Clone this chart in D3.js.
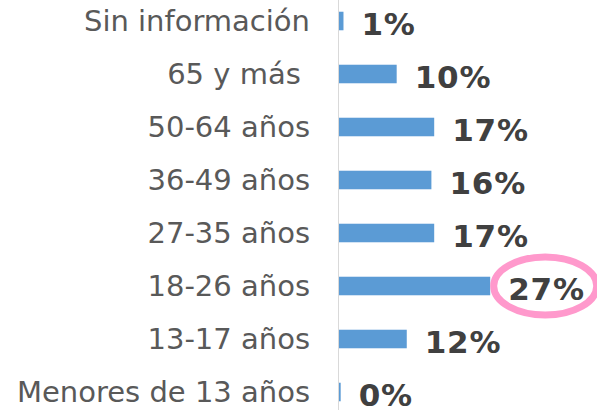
<!DOCTYPE html>
<html>
<head>
<meta charset="utf-8">
<script src="https://cdn.jsdelivr.net/npm/d3@7"></script>
<style>
  html, body { margin: 0; padding: 0; background: #fff; }
  svg { display: block; }
</style>
</head>
<body>
<svg id="chart"></svg>
<script>
// datos
const categorias = ['Sin información', '65 y más ', '50-64 años', '36-49 años', '27-35 años', '18-26 años', '13-17 años', 'Menores de 13 años'];
const valores = [0.8, 10.3, 17, 16.5, 17, 27, 12.1, 0.3];
const etiquetas = ['1%', '10%', '17%', '16%', '17%', '27%', '12%', '0%'];
const destacado = '18-26 años';

function barras() {
    const width = 597;
    const height = 410;
    const svg = d3.select('#chart')
        .attr('width', width)
        .attr('height', height);

    const x0 = 339;
    const x = d3.scaleLinear().domain([0, 10]).range([x0, x0 + 56]);
    const y = d3.scaleBand()
        .domain(categorias)
        .range([-5.5, 418.5])
        .paddingInner(0.65)
        .paddingOuter(0.325);

    // etiquetas de categoria
    svg.append('g')
        .selectAll('text')
        .data(categorias)
        .enter()
        .append('text')
        .attr('x', 310)
        .attr('y', function (d) { return y(d) + y.bandwidth() / 2; })
        .attr('dy', '0.36em')
        .attr('text-anchor', 'end')
        .attr('fill', '#595959')
        .style('font-family', 'DejaVu Sans, Verdana, sans-serif')
        .style('font-size', '29px')
        .style('white-space', 'pre')
        .text(function (d) { return d; });

    // barras
    svg.append('g')
        .selectAll('rect')
        .data(valores)
        .enter()
        .append('rect')
        .attr('x', x0)
        .attr('y', function (d, i) { return y(categorias[i]); })
        .attr('width', function (d) { return x(d) - x0; })
        .attr('height', y.bandwidth())
        .attr('fill', '#5b9bd5');

    // linea del eje
    svg.append('line')
        .attr('x1', 338.5).attr('x2', 338.5)
        .attr('y1', 0).attr('y2', height)
        .attr('stroke', '#d9d9d9')
        .attr('stroke-width', 1);

    // valores
    svg.append('g')
        .selectAll('text')
        .data(valores)
        .enter()
        .append('text')
        .attr('x', function (d) { return x(d) + 18; })
        .attr('y', function (d, i) { return y(categorias[i]) + y.bandwidth() / 2 + 2.5; })
        .attr('dy', '0.36em')
        .attr('fill', '#404040')
        .style('font-family', 'DejaVu Sans, Verdana, sans-serif')
        .style('font-size', '31px')
        .style('font-weight', 'bold')
        .style('letter-spacing', '0.8px')
        .text(function (d, i) { return etiquetas[i]; });

    // circulo rosa
    svg.append('ellipse')
        .attr('cx', x(valores[categorias.indexOf(destacado)]) + 55)
        .attr('cy', y(destacado) + y.bandwidth() / 2)
        .attr('rx', 51.5)
        .attr('ry', 29)
        .attr('fill', 'none')
        .attr('stroke', '#ff99cc')
        .attr('stroke-width', 7);
}

barras();
</script>
</body>
</html>
